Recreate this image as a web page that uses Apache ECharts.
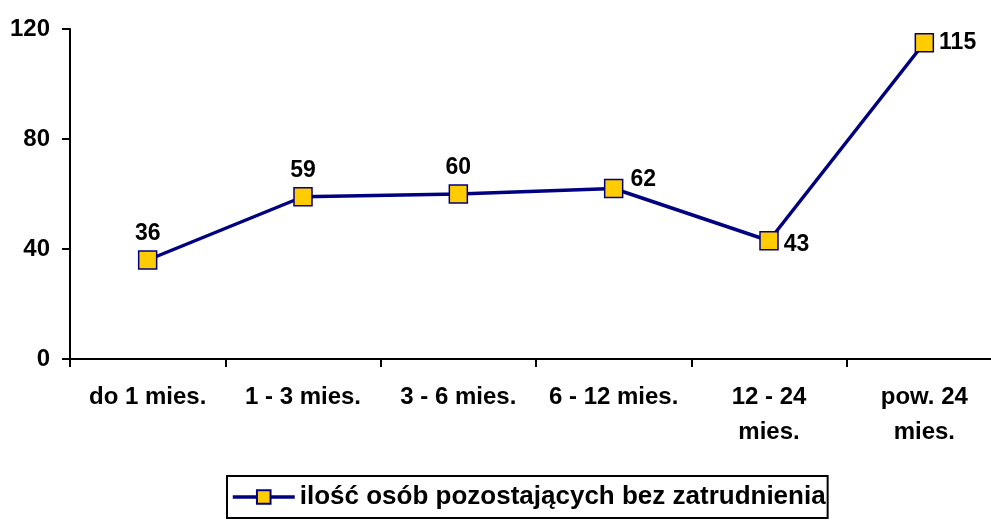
<!DOCTYPE html>
<html>
<head>
<meta charset="utf-8">
<script src="https://cdn.jsdelivr.net/npm/echarts@6/dist/echarts.min.js"></script>
<style>
  html, body { margin: 0; padding: 0; background: #fff; overflow: hidden; }
  #main { width: 1003px; height: 520px; }
</style>
</head>
<body>
<div id="main"></div>
<script>
var categories = ['do 1 mies.', '1 - 3 mies.', '3 - 6 mies.', '6 - 12 mies.', '12 - 24\nmies.', 'pow. 24\nmies.'];
var values = [36, 59, 60, 62, 43, 115];
var labelPos = ['top', 'top', 'top', 'right', 'right', 'right'];
var seriesName = 'ilość osób pozostających bez zatrudnienia';

var myChart = echarts.init(document.getElementById('main'));

var font = 'Liberation Sans, Arial, sans-serif';

var data = values.map(function (v, i) {
    var lbl = { position: labelPos[i] };
    if (i === 3) lbl.offset = [2, -9];
    if (i === 4) lbl.offset = [0, 4];
    return { value: v, label: lbl };
});

var option = {
    backgroundColor: '#fff',
    animation: false,
    grid: { left: 70, right: 1, top: 29, bottom: 161 },
    xAxis: {
        type: 'category',
        data: categories,
        boundaryGap: true,
        axisLine: { lineStyle: { color: '#000', width: 2 } },
        axisTick: { show: true, length: 8, lineStyle: { color: '#000', width: 2 } },
        axisLabel: {
            color: '#000', fontFamily: font, fontWeight: 'bold', fontSize: 24,
            margin: 21, lineHeight: 35, interval: 0
        },
        splitLine: { show: false }
    },
    yAxis: {
        type: 'value',
        min: 0, max: 120, interval: 40,
        axisLine: { show: true, lineStyle: { color: '#000', width: 2 } },
        axisTick: { show: true, length: 8, lineStyle: { color: '#000', width: 2 } },
        axisLabel: { color: '#000', fontFamily: font, fontWeight: 'bold', fontSize: 24, margin: 20 },
        splitLine: { show: false }
    },
    legend: {
        left: 227, top: 476,
        padding: [8, 2, 8, 4],
        borderColor: '#000', borderWidth: 2,
        itemWidth: 62, itemHeight: 17, itemGap: 2,
        lineStyle: { color: '#000080', width: 3.5 },
        textStyle: { color: '#000', fontFamily: font, fontWeight: 'bold', fontSize: 26 },
        data: [seriesName]
    },
    series: [{
        name: seriesName,
        type: 'line',
        data: data,
        symbol: 'rect',
        symbolSize: 18,
        itemStyle: { color: '#FFCC00', borderColor: '#000080', borderWidth: 1.5 },
        lineStyle: { color: '#000080', width: 3.5 },
        label: {
            show: true, color: '#000', fontFamily: font, fontWeight: 'bold', fontSize: 23,
            distance: 5
        }
    }]
};

myChart.setOption(option);
</script>
</body>
</html>
